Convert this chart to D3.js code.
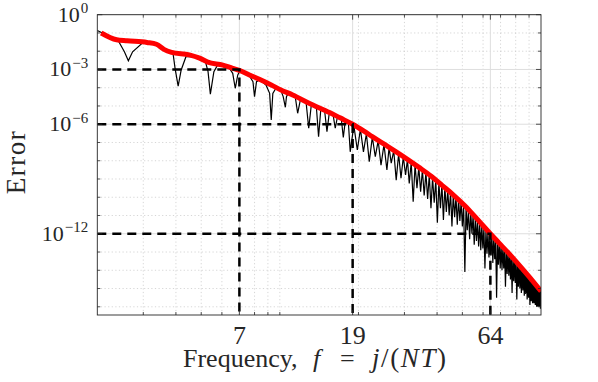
<!DOCTYPE html>
<html>
<head>
<meta charset="utf-8">
<script src="https://cdn.jsdelivr.net/npm/d3@7"></script>
<style>
  body { margin: 0; background: #fff; }
  text { font-family: "Liberation Serif", "Times New Roman", serif; fill: #262626; }
</style>
</head>
<body>
<svg id="chart" width="598" height="382"></svg>
<script>
// tick positions and labels
const xTicks = [7, 19, 64];
const xMinorTicks = [3, 4, 5, 6, 8, 9, 10, 20, 30, 40, 50, 60, 70, 80, 90];
const yTickExp = [0, -3, -6, -12];
const yMinorExp = [-1, -2, -4, -5, -7, -8, -9, -10, -11, -13, -14, -15, -16];

// dashed guide lines: frequency where the error bound reaches 10^exp
const guideF = [7, 19, 64];
const guideExp = [-3, -6, -12];

// red envelope (log10 of error)
const redF = [2.07, 2.37, 2.6, 3.1, 3.37, 3.6, 3.85, 4.5, 4.93, 5.3, 6.05, 6.6, 7.0, 7.65, 8.35, 9.27, 10.1, 11.2, 13, 15.5, 17, 19, 21, 22.6, 25, 27.8, 31, 34, 38, 41.8, 46, 51, 57, 64, 69, 75, 80, 90, 100];
const redE = [-1.0, -1.37, -1.43, -1.52, -1.62, -1.9, -2.06, -2.2, -2.38, -2.6, -2.76, -2.94, -3.05, -3.3, -3.54, -3.85, -4.12, -4.4, -4.86, -5.36, -5.65, -6.0, -6.38, -6.68, -7.08, -7.5, -7.95, -8.35, -8.85, -9.35, -9.85, -10.45, -11.2, -12.0, -12.5, -13.05, -13.5, -14.35, -15.15];

// black error curve, low frequencies (wide lobes)
const lobePts = [
  [2.0, -0.87], [2.2, -1.15], [2.4, -1.4], [2.54, -2.03], [2.63, -2.52], [2.73, -2.03], [2.99, -1.53],
  [3.3, -1.62], [3.5, -1.78], [3.7, -2.0], [3.9, -2.12], [3.97, -2.94], [4.08, -3.91], [4.19, -3.03], [4.37, -2.3],
  [4.7, -2.3], [5.0, -2.45], [5.2, -2.62], [5.31, -3.12], [5.42, -4.35], [5.59, -3.12], [5.78, -2.75],
  [6.1, -2.8], [6.4, -2.92], [6.6, -3.21], [6.75, -4.03], [6.9, -3.3], [7.01, -3.12],
  [7.3, -3.2], [7.65, -3.35], [7.89, -3.67], [8.0, -4.49], [8.14, -3.67], [8.35, -3.58],
  [8.6, -3.7], [8.85, -3.85], [9.14, -4.31], [9.27, -5.77], [9.4, -4.31], [9.66, -4.03],
  [9.9, -4.1], [10.1, -4.16], [10.3, -4.49], [10.5, -5.07], [10.6, -4.49], [10.8, -4.27]
];

// black error curve, notches above f = 11
const dipF = [11.7, 12.9, 14.07, 15.15, 16.3, 17.5, 18.6, 19.8, 20.9, 22.0, 23.2, 24.4, 25.7, 26.7, 27.9, 29.1, 30.3, 31.3, 32.4,
  33.5, 34.6, 35.7, 36.8, 37.9, 39.0, 40.1, 41.2, 42.3, 43.4, 44.5, 45.6, 46.7, 47.8, 48.9, 50.0,
  51.1, 52.2, 53.3, 54.4, 55.5, 56.6, 57.7, 58.8, 59.9, 61.0, 62.1, 63.2, 64.3, 65.4, 66.5, 67.6,
  68.7, 69.8, 70.9, 72.0, 73.1, 74.2, 75.3, 76.4, 77.5, 78.6, 79.7, 80.8, 81.9, 83.0, 84.1, 85.2,
  86.3, 87.4, 88.5, 89.6, 90.7, 91.8, 92.9, 94.0, 95.1, 96.2, 97.3, 98.4, 99.5];
const dipE = [-5.4, -6.22, -6.68, -6.41, -6.22, -6.72, -7.51, -7.41, -7.51, -8.05, -7.78, -8.24, -8.51, -8.13, -9.06, -8.96, -8.78, -9.24, -10.25,
  -9.5, -9.7, -9.9, -10.1, -10.6, -10.3, -11.4, -10.6, -11.25, -10.8, -11.0, -11.6, -11.1, -11.5, -11.3, -11.6,
  -14.1, -11.8, -12.3, -12.0, -12.6, -12.4, -12.7, -12.9, -12.8, -13.9, -13.1, -13.3, -13.2, -13.6, -13.4, -15.5,
  -13.7, -13.9, -14.0, -13.9, -14.9, -14.2, -14.3, -14.5, -15.25, -14.6, -14.7, -15.6, -14.9, -15.0, -15.25, -15.1,
  -15.4, -15.3, -15.6, -15.5, -15.9, -15.7, -15.8, -15.8, -15.9, -16.0, -16.0, -16.0, -16.1];
const peakF = [11.45, 12.0, 12.6, 13.2, 13.8, 14.35, 14.85, 15.45, 16.0, 16.6, 17.2, 17.8, 18.3,
  19.2, 20.35, 21.45, 22.6, 23.8, 25.05, 26.2, 27.3, 28.5, 29.7, 30.8, 31.85, 32.95,
  34.05, 35.15, 36.25, 37.35, 38.45, 39.55, 40.65, 41.75, 42.85, 43.95, 45.05, 46.15, 47.25, 48.35, 49.45,
  50.55, 51.65, 52.75, 53.85, 54.95, 56.05, 57.15, 58.25, 59.35, 60.45, 61.55, 62.65, 63.75, 64.85, 65.95,
  67.05, 68.15, 69.25, 70.35, 71.45, 72.55, 73.65, 74.75, 75.85, 76.95, 78.05, 79.15, 80.25, 81.35, 82.45,
  83.55, 84.65, 85.75, 86.85, 87.95, 89.05, 90.15, 91.25, 92.35, 93.45, 94.55, 95.65, 96.75, 97.85, 98.95, 100];
const peakE = [-4.48, -4.63, -4.78, -4.93, -5.06, -5.18, -5.29, -5.42, -5.5, -5.62, -5.73, -5.83, -5.92,
  -6.06, -6.27, -6.52, -6.71, -6.9, -7.1, -7.28, -7.45, -7.62, -7.79, -7.94, -8.08, -8.22,
  -8.35, -8.49, -8.63, -8.77, -8.9, -9.04, -9.18, -9.3, -9.43, -9.56, -9.7, -9.83, -9.96, -10.1, -10.25,
  -10.4, -10.55, -10.7, -10.85, -11.0, -11.14, -11.28, -11.42, -11.55, -11.68, -11.8, -11.9, -12.0, -12.1, -12.2,
  -12.3, -12.42, -12.52, -12.63, -12.73, -12.84, -12.94, -13.04, -13.13, -13.23, -13.33, -13.43, -13.53, -13.62, -13.72,
  -13.82, -13.92, -14.02, -14.12, -14.22, -14.32, -14.42, -14.5, -14.6, -14.69, -14.78, -14.86, -14.94, -15.02, -15.1, -15.15];

const plot = { left: 97.3, right: 541, top: 14.7, bottom: 315 };
const svg = d3.select("#chart");

const x = d3.scaleLog().domain([2, 100]).range([plot.left, plot.right]);
const y = d3.scaleLog().domain([Math.pow(10, -16.45), 1]).range([plot.bottom, plot.top]);
const yE = e => y(Math.pow(10, e));

svg.append("defs").append("clipPath").attr("id", "clip")
    .append("rect")
    .attr("x", plot.left).attr("y", plot.top)
    .attr("width", plot.right - plot.left).attr("height", plot.bottom - plot.top);

// grid
const grid = svg.append("g");
grid.selectAll(".xminor").data(xMinorTicks).enter().append("line")
    .attr("x1", d => x(d)).attr("x2", d => x(d))
    .attr("y1", plot.top).attr("y2", plot.bottom)
    .attr("stroke", "#c4c4c4").attr("stroke-width", 0.7).attr("stroke-dasharray", "1.2,2.4");
grid.selectAll(".yminor").data(yMinorExp).enter().append("line")
    .attr("y1", d => yE(d)).attr("y2", d => yE(d))
    .attr("x1", plot.left).attr("x2", plot.right)
    .attr("stroke", "#c4c4c4").attr("stroke-width", 0.7).attr("stroke-dasharray", "1.2,2.4");
grid.selectAll(".xmajor").data(xTicks).enter().append("line")
    .attr("x1", d => x(d)).attr("x2", d => x(d))
    .attr("y1", plot.top).attr("y2", plot.bottom)
    .attr("stroke", "#dedede").attr("stroke-width", 1);
grid.selectAll(".ymajor").data(yTickExp).enter().append("line")
    .attr("y1", d => yE(d)).attr("y2", d => yE(d))
    .attr("x1", plot.left).attr("x2", plot.right)
    .attr("stroke", "#dedede").attr("stroke-width", 1);

// data
const blackPts = lobePts
    .concat(dipF.map((f, i) => [f, dipE[i]]))
    .concat(peakF.map((f, i) => [f, peakE[i]]))
    .sort((a, b) => a[0] - b[0]);

const line = d3.line().x(d => x(d[0])).y(d => yE(d[1]));
const marks = svg.append("g").attr("clip-path", "url(#clip)");

marks.append("path")
    .attr("d", line(blackPts))
    .attr("fill", "none").attr("stroke", "#000").attr("stroke-width", 1.2);

marks.append("path")
    .attr("d", line.curve(d3.curveMonotoneX)(redF.map((f, i) => [f, redE[i]])))
    .attr("fill", "none").attr("stroke", "#ff0000").attr("stroke-width", 5)
    .attr("stroke-linejoin", "round");

const guideLine = d3.line().x(d => x(d[0])).y(d => y(d[1]));
marks.selectAll(".guide").data(guideF).enter().append("path")
    .attr("d", (f, i) => guideLine([[2, Math.pow(10, guideExp[i])], [f, Math.pow(10, guideExp[i])], [f, y.domain()[0]]]))
    .attr("fill", "none").attr("stroke", "#000").attr("stroke-width", 2.5)
    .attr("stroke-dasharray", "9,6");

// axes box and ticks
const axisCol = "#262626";
svg.append("rect")
    .attr("x", plot.left).attr("y", plot.top)
    .attr("width", plot.right - plot.left).attr("height", plot.bottom - plot.top)
    .attr("fill", "none").attr("stroke", axisCol).attr("stroke-width", 0.9);

const ticks = svg.append("g").attr("stroke", axisCol).attr("stroke-width", 0.8);
[[xTicks, 5], [xMinorTicks, 3]].forEach(([vals, len]) => {
    vals.forEach(v => {
        ticks.append("line").attr("x1", x(v)).attr("x2", x(v)).attr("y1", plot.bottom).attr("y2", plot.bottom - len);
        ticks.append("line").attr("x1", x(v)).attr("x2", x(v)).attr("y1", plot.top).attr("y2", plot.top + len);
    });
});
[[yTickExp, 5], [yMinorExp, 3]].forEach(([vals, len]) => {
    vals.forEach(v => {
        ticks.append("line").attr("y1", yE(v)).attr("y2", yE(v)).attr("x1", plot.left).attr("x2", plot.left + len);
        ticks.append("line").attr("y1", yE(v)).attr("y2", yE(v)).attr("x1", plot.right).attr("x2", plot.right - len);
    });
});

// tick labels
svg.selectAll(".xlab").data(xTicks).enter().append("text")
    .attr("x", d => x(d)).attr("y", plot.bottom + 29)
    .attr("text-anchor", "middle").style("font-size", "26px")
    .text(d => d);

yTickExp.forEach(e => {
    const t = svg.append("text")
        .attr("x", plot.left - 9).attr("y", yE(e) + 7)
        .attr("text-anchor", "end").style("font-size", "22px");
    t.append("tspan").text("10");
    t.append("tspan").attr("dy", -8.5).attr("dx", 1).style("font-size", "15px")
        .text(e === 0 ? "0" : "\u2212" + Math.abs(e));
});

// axis titles
const xt = svg.append("text").attr("y", 367).style("font-size", "26px");
xt.append("tspan").attr("x", 183).text("Frequency,");
xt.append("tspan").attr("x", 313).style("font-style", "italic").text("f");
xt.append("tspan").attr("x", 340).text("=");
xt.append("tspan").attr("x", 372).style("font-size", "27px").style("letter-spacing", "1.6px")
    .text("j/(");
xt.append("tspan").style("font-size", "27px").style("letter-spacing", "1.6px")
    .style("font-style", "italic").text("NT");
xt.append("tspan").style("font-size", "27px").text(")");
// italic j only
xt.selectAll("tspan").filter((d, i) => i === 3).text(null)
    .call(s => {
        s.append("tspan").style("font-style", "italic").text("j");
        s.append("tspan").text("/(");
    });

svg.append("text")
    .attr("transform", "translate(24.5, 162) rotate(-90)")
    .attr("text-anchor", "middle").style("font-size", "27px").style("letter-spacing", "1.5px")
    .text("Error");
</script>
</body>
</html>
